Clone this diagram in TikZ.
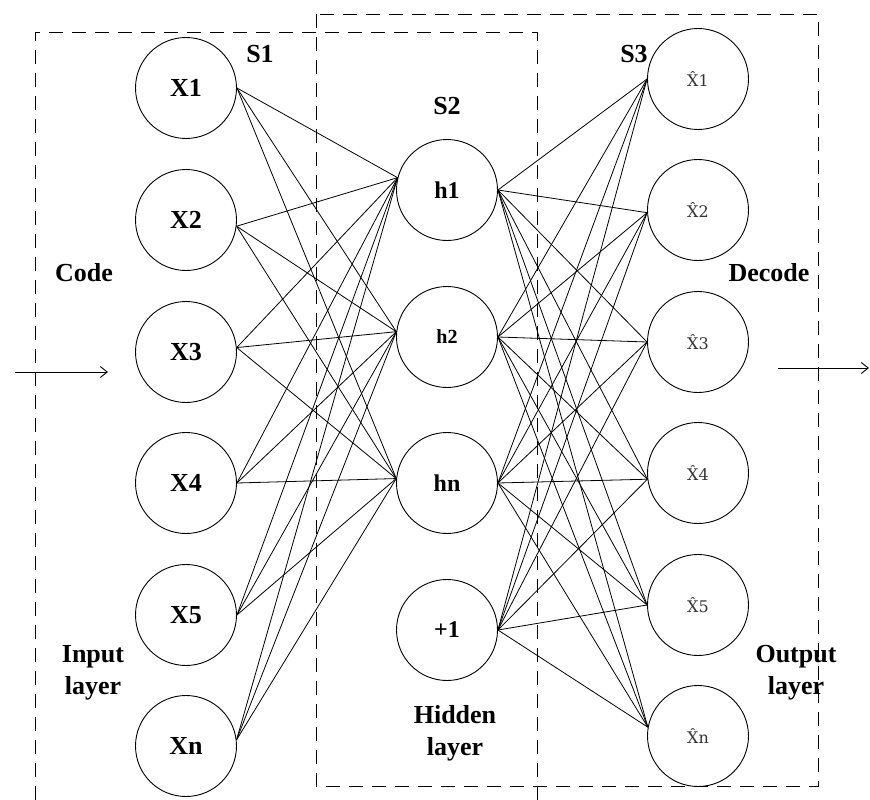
\documentclass[tikz,border=0pt]{standalone}
\usepackage{fontspec}
\setmainfont{Liberation Serif}
\newfontfamily\hatfont{DejaVu Serif}
\usetikzlibrary{arrows.meta}
\begin{document}
\begin{tikzpicture}[x=1pt,y=-1pt,
  neuron/.style={circle,draw,line width=0.9pt,minimum size=101pt,inner sep=0pt},
  big/.style={font=\bfseries\fontsize{26}{30}\selectfont},
  mid/.style={font=\bfseries\fontsize{24}{28}\selectfont},
  small/.style={font=\bfseries\fontsize{20}{23}\selectfont},
  outl/.style={font=\hatfont\fontsize{16}{20}\selectfont,text=black!80},
  tag/.style={font=\bfseries\fontsize{26}{32}\selectfont,align=center,inner sep=0pt},
  edge/.style={line width=0.8pt},
  box/.style={line width=0.9pt,dash pattern=on 14pt off 9pt},
  flow/.style={line width=0.9pt,-{Straight Barb[length=7pt,width=11pt]}}
]
\useasboundingbox (0,0) rectangle (870,800);
% dashed regions
\draw[box] (35,800) -- (35,32) -- (537,32) -- (537,800);
\draw[box] (316,14) rectangle (818,786);
% input layer
\node[neuron,big] (x1) at (186,88) {X1};
\node[neuron,big] (x2) at (186,220) {X2};
\node[neuron,big] (x3) at (186,352) {X3};
\node[neuron,big] (x4) at (186,483) {X4};
\node[neuron,big] (x5) at (186,615) {X5};
\node[neuron,big] (xn) at (186,746) {Xn};
% hidden layer
\node[neuron,mid] (h1) at (447,190) {h1};
\node[neuron,small] (h2) at (447,337) {h2};
\node[neuron,mid] (hn) at (447,483) {hn};
\node[neuron,mid] (hb) at (447,630) {+1};
% output layer
\node[neuron,outl] (o1) at (698,79) {X̂1};
\node[neuron,outl] (o2) at (698,210) {X̂2};
\node[neuron,outl] (o3) at (698,342) {X̂3};
\node[neuron,outl] (o4) at (698,473) {X̂4};
\node[neuron,outl] (o5) at (698,605) {X̂5};
\node[neuron,outl] (on) at (698,736) {X̂n};
% connections input -> hidden
\foreach \i/\a in {x1/0,x2/-7,x3/5,x4/0,x5/0,xn/7}
  \foreach \j/\b in {h1/166,h2/174,hn/175}
    \draw[edge] (\i.\a) -- (\j.\b);
% connections hidden -> output
\foreach \j in {h1,h2,hn,hb}
  \foreach \o/\b in {o1/180,o2/183,o3/180,o4/187,o5/180,on/170}
    \draw[edge] (\j.east) -- (\o.\b);
% labels
\node[tag] (s1) at (260,54) {S1};
\node[tag] (s2) at (447,106) {S2};
\node[tag] (s3) at (634,54) {S3};
\node[tag] (code) at (84,273) {Code};
\node[tag] (decode) at (769,273) {Decode};
\node[tag] (inl) at (93,673) {Input\\layer};
\node[tag] (hidl) at (455,733) {Hidden\\layer};
\node[tag] (outl) at (796,673) {Output\\layer};
% flow arrows
\coordinate (inA) at (15,372);
\coordinate (inB) at (108,372);
\coordinate (outA) at (778,368);
\coordinate (outB) at (869,368);
\draw[flow] (inA) -- (inB);
\draw[flow] (outA) -- (outB);
\end{tikzpicture}
\end{document}
